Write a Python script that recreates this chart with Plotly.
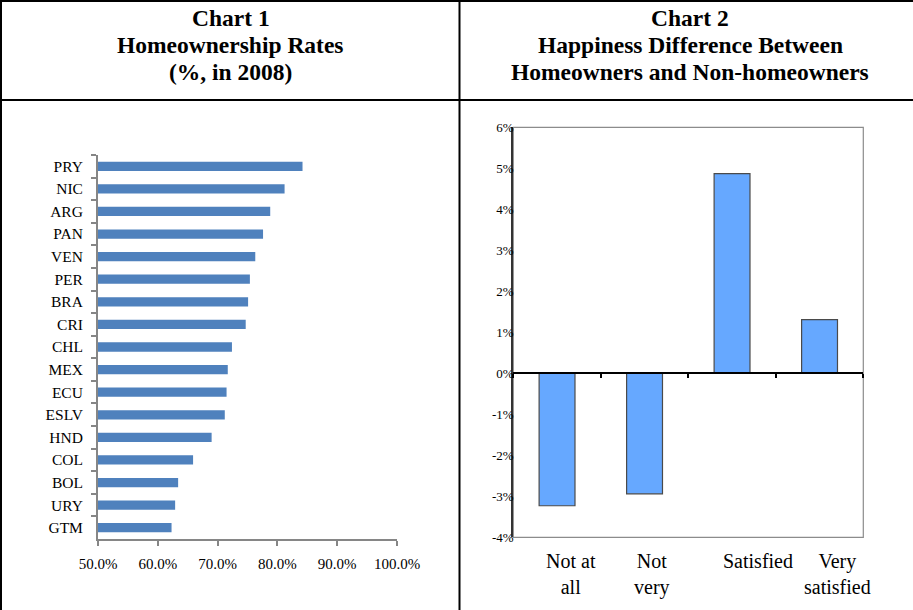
import plotly.graph_objects as go

# Chart 1: homeownership rates by country, 2008 (percent)
countries = ["PRY", "NIC", "ARG", "PAN", "VEN", "PER", "BRA", "CRI", "CHL",
             "MEX", "ECU", "ESLV", "HND", "COL", "BOL", "URY", "GTM"]
ownership_rates = [84.2, 81.2, 78.8, 77.6, 76.3, 75.4, 75.1, 74.7, 72.4,
                   71.7, 71.5, 71.2, 69.0, 65.9, 63.4, 62.9, 62.3]
rate_ticks = [50, 60, 70, 80, 90, 100]
rate_tick_text = ["50.0%", "60.0%", "70.0%", "80.0%", "90.0%", "100.0%"]

# Chart 2: happiness difference, homeowners minus non-homeowners (points)
satisfaction = ["Not at all", "Not very", "Satisfied", "Very satisfied"]
satisfaction_labels = ["Not at<br>all", "Not<br>very", "Satisfied", "Very<br>satisfied"]
happiness_diff = [-3.23, -2.94, 4.87, 1.31]
diff_ticks = [-4, -3, -2, -1, 0, 1, 2, 3, 4, 5, 6]
diff_tick_text = ["-4%", "-3%", "-2%", "-1%", "0%", "1%", "2%", "3%", "4%", "5%", "6%"]

# Column headings, one entry per line
title_1 = ["Chart 1", "Homeownership Rates", "(%, in 2008)"]
title_2 = ["Chart 2", "Happiness Difference Between", "Homeowners and Non-homeowners"]

W, H = 913, 610
SERIF = "Liberation Serif, Times New Roman, serif"


def px_x(p):
    return p / W


def px_y(p):
    return 1 - p / H


fig = go.Figure()

fig.add_trace(go.Bar(
    x=ownership_rates, y=countries, orientation="h",
    marker=dict(color="#4F81BD", line=dict(width=0)),
    xaxis="x", yaxis="y", showlegend=False, hoverinfo="x+y",
))

fig.add_trace(go.Bar(
    x=satisfaction, y=happiness_diff,
    marker=dict(color="#66A8FF", line=dict(color="#4a4a4a", width=1.2)),
    xaxis="x2", yaxis="y2", showlegend=False, hoverinfo="x+y",
))

# invisible companion trace so the zero-line axis carries the categories
fig.add_trace(go.Scatter(
    x=satisfaction, y=happiness_diff, mode="markers",
    marker=dict(opacity=0), xaxis="x3", yaxis="y2",
    showlegend=False, hoverinfo="skip",
))

grey = "#868686"
cat_range = [-0.5, len(satisfaction) - 0.5]

fig.update_layout(
    template="none",
    width=W, height=H, autosize=False,
    margin=dict(l=0, r=0, t=0, b=0, pad=0, autoexpand=False),
    paper_bgcolor="white", plot_bgcolor="rgba(0,0,0,0)",
    font=dict(family=SERIF, color="black"),
    bargap=0.59,
    xaxis=dict(
        domain=[px_x(98), px_x(397)], anchor="y", automargin=False,
        range=[50, 100], tickmode="array", tickvals=rate_ticks, ticktext=rate_tick_text,
        showline=True, linecolor=grey, linewidth=2,
        ticks="outside", ticklen=5, tickcolor=grey, tickwidth=1.5,
        ticklabelstandoff=5,
        showgrid=False, zeroline=False,
        tickfont=dict(size=15, family=SERIF, color="black"),
        fixedrange=True,
    ),
    yaxis=dict(
        domain=[px_y(539), px_y(155)], anchor="x", automargin=False,
        type="category", categoryorder="array", categoryarray=countries,
        autorange="reversed",
        showline=True, linecolor=grey, linewidth=2,
        ticks="outside", ticklen=5, tickcolor=grey, tickwidth=1.5,
        tickson="boundaries", ticklabelstandoff=10,
        showgrid=False, zeroline=False,
        tickfont=dict(size=15.5, family=SERIF, color="black"),
        fixedrange=True,
    ),
    xaxis2=dict(
        domain=[px_x(513.3), px_x(863.3)], anchor="y2", automargin=False,
        type="category", categoryorder="array", categoryarray=satisfaction,
        range=cat_range,
        showticklabels=False, ticks="",
        showline=False, showgrid=False, zeroline=False,
        fixedrange=True,
    ),
    yaxis2=dict(
        domain=[px_y(537.3), px_y(127.3)], anchor="x2", automargin=False,
        range=[-4, 6], tickmode="array", tickvals=diff_ticks, ticktext=diff_tick_text,
        showline=True, linecolor="#333333", linewidth=2,
        ticks="", ticklabelstandoff=-5,
        showgrid=False, zeroline=False,
        tickfont=dict(size=13, family=SERIF, color="black"),
        fixedrange=True,
    ),
    xaxis3=dict(
        domain=[px_x(513.3), px_x(863.3)], overlaying="x2", automargin=False,
        anchor="free", position=px_y(373.3), side="bottom",
        type="category", categoryorder="array", categoryarray=satisfaction,
        range=cat_range,
        showticklabels=False,
        showline=True, linecolor="black", linewidth=1.5,
        ticks="outside", ticklen=4, tickcolor="black", tickwidth=1.5,
        tickson="boundaries",
        showgrid=False, zeroline=False,
        fixedrange=True,
    ),
)

shapes = [
    # grey frame of chart 2 plot area
    dict(type="rect", xref="x2 domain", yref="y2 domain", x0=0, x1=1, y0=0, y1=1,
         line=dict(color="#8c8c8c", width=1.2), layer="below"),
    # table rules
    dict(type="line", xref="paper", yref="paper", x0=0, x1=1, y0=px_y(1), y1=px_y(1),
         line=dict(color="black", width=2)),
    dict(type="line", xref="paper", yref="paper", x0=0, x1=1, y0=px_y(100), y1=px_y(100),
         line=dict(color="black", width=2)),
    dict(type="line", xref="paper", yref="paper", x0=px_x(1), x1=px_x(1), y0=0, y1=1,
         line=dict(color="black", width=2)),
    dict(type="line", xref="paper", yref="paper", x0=px_x(459.5), x1=px_x(459.5), y0=0, y1=1,
         line=dict(color="black", width=2)),
]
fig.update_layout(shapes=shapes)

annotations = []
line_centres = [18, 45, 72]
for lines, cx in ((title_1, 231), (title_2, 690)):
    for text, cy in zip(lines, line_centres):
        annotations.append(dict(
            text=f"<b>{text}</b>", xref="paper", yref="paper",
            x=px_x(cx), y=px_y(cy), xanchor="center", yanchor="middle",
            showarrow=False, font=dict(size=23.5, family=SERIF, color="black"),
        ))

label_shifts = [14, 7.5, 26, 17.5]
for cat, lab, sh in zip(satisfaction, satisfaction_labels, label_shifts):
    annotations.append(dict(
        text=lab, xref="x2", yref="paper", x=cat, y=px_y(548),
        xanchor="center", yanchor="top", xshift=sh, showarrow=False,
        font=dict(size=20, family=SERIF, color="black"),
    ))
fig.update_layout(annotations=annotations)

fig.write_html("out.html")
